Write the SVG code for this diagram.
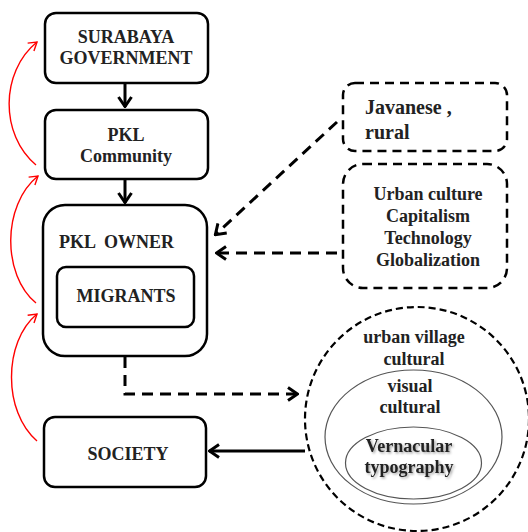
<svg xmlns="http://www.w3.org/2000/svg" width="528" height="532" viewBox="0 0 528 532">
<style>
text{font-family:"Liberation Serif","Times New Roman",serif;font-weight:bold;fill:#222;font-size:18px}
.c{text-anchor:middle}
.box{fill:#fff;stroke:#000;stroke-width:2.5}
.dbox{fill:#fff;stroke:#000;stroke-width:2.5;stroke-dasharray:9 6}
.solid{fill:none;stroke:#000;stroke-width:3}
.dash{fill:none;stroke:#000;stroke-width:3;stroke-dasharray:11 7}
.red{fill:none;stroke:#f00;stroke-width:1.4}
</style>
<defs>
<marker id="chev" markerUnits="userSpaceOnUse" viewBox="0 0 12 16" refX="11" refY="8" markerWidth="12" markerHeight="16" orient="auto">
<path d="M1,1.5 L10.5,8 L1,14.5" fill="none" stroke="#000" stroke-width="3" stroke-dasharray="none"/>
</marker>
<marker id="redh" markerUnits="userSpaceOnUse" viewBox="0 0 10 12" refX="9" refY="6" markerWidth="10" markerHeight="12" orient="auto">
<path d="M1,1 L9,6 L1,11" fill="none" stroke="#f00" stroke-width="1.4"/>
</marker>
<filter id="sh" x="-10%" y="-30%" width="130%" height="160%">
<feDropShadow dx="1.5" dy="1.5" stdDeviation="1" flood-color="#000" flood-opacity="0.35"/>
</filter>
</defs>
<g id="connectors">
<path class="solid" d="M125,83 V107" marker-end="url(#chev)"/>
<path class="solid" d="M125,179 V203" marker-end="url(#chev)"/>
<path class="dash" d="M337,122 L215,235" marker-end="url(#chev)"/>
<path class="dash" d="M337,253 H216" marker-end="url(#chev)"/>
<path class="dash" d="M125,357 V394 H298" marker-end="url(#chev)"/>
<path class="solid" d="M305,451 H209" marker-end="url(#chev)"/>
<path class="red" d="M36,165 C0,135 0,72 37,42" marker-end="url(#redh)"/>
<path class="red" d="M36,303 C2,275 2,205 38,176" marker-end="url(#redh)"/>
<path class="red" d="M37,441 C3,412 3,342 37,314" marker-end="url(#redh)"/>
</g>
<g id="surabaya">
<rect class="box" x="45" y="13" width="163" height="70" rx="11"/>
<text class="c" x="126" y="43">SURABAYA</text>
<text class="c" x="126" y="64">GOVERNMENT</text>
</g>
<g id="community">
<rect class="box" x="45" y="110" width="163" height="69" rx="11"/>
<text class="c" x="126" y="141">PKL</text>
<text class="c" x="126" y="162">Community</text>
</g>
<g id="owner">
<rect class="box" x="43" y="205" width="164" height="151" rx="22"/>
<text x="59" y="248" xml:space="preserve">PKL  OWNER</text>
<g id="migrants">
<rect class="box" x="57" y="267" width="137" height="60" rx="9"/>
<text class="c" x="126" y="302">MIGRANTS</text>
</g>
</g>
<g id="society">
<rect class="box" x="44" y="417" width="162" height="70" rx="11"/>
<text class="c" x="128" y="460">SOCIETY</text>
</g>
<g id="javanese">
<rect class="dbox" x="343" y="83" width="164" height="68" rx="12"/>
<text x="365" y="114" style="font-size:20px">Javanese ,</text>
<text x="365" y="139" style="font-size:20px">rural</text>
</g>
<g id="urban">
<rect class="dbox" x="343" y="164" width="164" height="124" rx="20"/>
<text class="c" x="428" y="200">Urban culture</text>
<text class="c" x="428" y="222">Capitalism</text>
<text class="c" x="428" y="244">Technology</text>
<text class="c" x="428" y="266">Globalization</text>
</g>
<g id="circle">
<circle cx="417" cy="419" r="112" fill="#fff" stroke="#000" stroke-width="2.2" stroke-dasharray="7 4"/>
<text class="c" x="414" y="343">urban village</text>
<text class="c" x="414" y="365">cultural</text>
<ellipse cx="413.5" cy="437" rx="88.5" ry="67" fill="none" stroke="#555" stroke-width="1.2"/>
<text class="c" x="410" y="392">visual</text>
<text class="c" x="410" y="413">cultural</text>
<ellipse cx="413.5" cy="463" rx="68" ry="36" fill="none" stroke="#555" stroke-width="1.2"/>
<text class="c" x="409" y="452" filter="url(#sh)">Vernacular</text>
<text class="c" x="409" y="473" filter="url(#sh)">typography</text>
</g>
</svg>
